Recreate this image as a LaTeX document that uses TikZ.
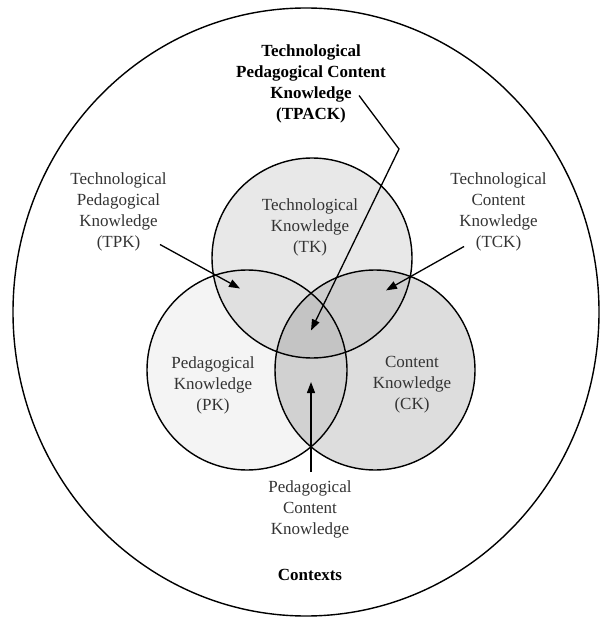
\documentclass[tikz,border=0pt]{standalone}
\usepackage{fontspec}
\setmainfont{Liberation Serif}
\usetikzlibrary{arrows.meta}
\definecolor{cTK}{gray}{0.91}
\definecolor{cPK}{gray}{0.955}
\definecolor{cCK}{gray}{0.865}
\definecolor{cTP}{gray}{0.88}
\definecolor{cTC}{gray}{0.81}
\definecolor{cPC}{gray}{0.82}
\definecolor{cAll}{gray}{0.77}
\definecolor{txt}{gray}{0.2}
\begin{document}
\begin{tikzpicture}[x=1pt,y=-1pt,
  lbl/.style={align=center,inner sep=0pt,text=txt,font=\fontsize{17}{21}\selectfont},
  blbl/.style={align=center,inner sep=0pt,text=black,font=\fontsize{17}{21}\selectfont\bfseries},
  ring/.style={draw=black,line width=1.4pt},
  pointer/.style={draw=black,line width=1.3pt,-{Triangle[length=11pt,width=8pt]}}]
\useasboundingbox (0,0) rectangle (599,617);
\coordinate (cT) at (312,258);
\coordinate (cP) at (247,370);
\coordinate (cC) at (375,370);
% outer context
\draw[ring] (306,312) ellipse[x radius=293pt,y radius=304pt];
% fills
\fill[cTK] (cT) circle[radius=100pt];
\fill[cPK] (cP) circle[radius=100pt];
\fill[cCK] (cC) circle[radius=100pt];
\begin{scope}
  \clip (cP) circle[radius=100pt];
  \fill[cPC] (cC) circle[radius=100pt];
\end{scope}
\begin{scope}
  \clip (cT) circle[radius=100pt];
  \fill[cTP] (cP) circle[radius=100pt];
  \fill[cTC] (cC) circle[radius=100pt];
  \clip (cP) circle[radius=100pt];
  \fill[cAll] (cC) circle[radius=100pt];
\end{scope}
\draw[ring] (cT) circle[radius=100pt];
\draw[ring] (cP) circle[radius=100pt];
\draw[ring] (cC) circle[radius=100pt];
% texts
\node[blbl] (tpack) at (311,84) {Technological\\Pedagogical Content\\Knowledge\\(TPACK)};
\node[lbl] (tpk) at (118.5,212) {Technological\\Pedagogical\\Knowledge\\(TPK)};
\node[lbl] (tck) at (498.5,212) {Technological\\Content\\Knowledge\\(TCK)};
\node[lbl] (tk) at (310,227) {Technological\\Knowledge\\(TK)};
\node[lbl] (pk) at (213,385) {Pedagogical\\Knowledge\\(PK)};
\node[lbl] (ck) at (412,385) {Content\\Knowledge\\(CK)};
\node[lbl] (pck) at (310,509) {Pedagogical\\Content\\Knowledge};
\node[blbl] (ctx) at (310,575) {Contexts};
% arrows
\coordinate (tpkS) at (160,244.5);
\coordinate (tpkE) at (240,288.5);
\coordinate (tckS) at (464,246.5);
\coordinate (tckE) at (386,290.4);
\coordinate (tpS) at (359,95.5);
\coordinate (tpB) at (399,149);
\coordinate (tpE) at (311,330.5);
\coordinate (pcS) at (311,472);
\coordinate (pcE) at (311,382);
\draw[pointer] (tpkS) -- (tpkE);
\draw[pointer] (tckS) -- (tckE);
\draw[pointer] (tpS) -- (tpB) -- (tpE);
\draw[pointer] (pcS) -- (pcE);
\end{tikzpicture}
\end{document}
